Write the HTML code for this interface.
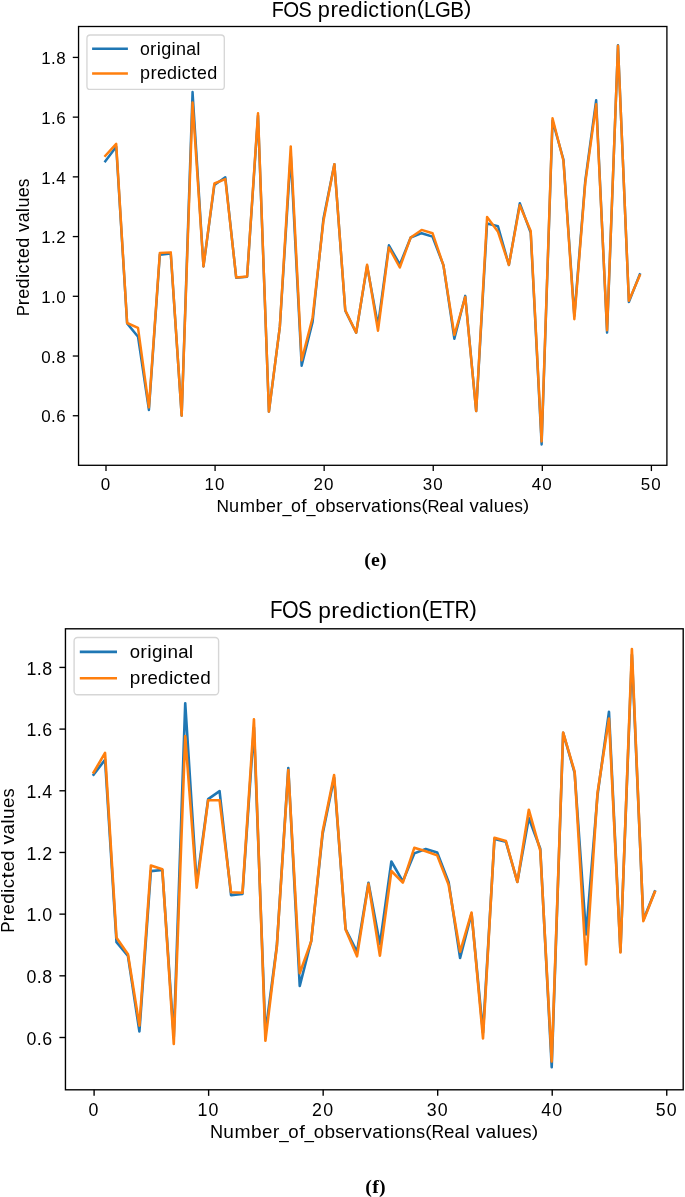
<!DOCTYPE html>
<html><head><meta charset="utf-8"><style>
html,body{margin:0;padding:0;background:#fff;}
body{width:685px;height:1197px;overflow:hidden;}
svg{display:block;}
#w{will-change:transform;width:685px;height:1197px;}
text{font-family:"Liberation Sans", sans-serif;fill:#000;}
.cap{font-family:"Liberation Serif",serif;font-weight:bold;}
</style></head><body>
<div id="w"><svg width="685" height="1197" viewBox="0 0 685 1197">
<rect width="685" height="1197" fill="#fff"/>
<clipPath id="c1"><rect x="78.55" y="26.5" width="588.35" height="438.80"/></clipPath>
<polyline clip-path="url(#c1)" points="105.30,161.23 116.21,146.79 127.12,323.35 138.02,336.77 148.93,409.96 159.84,254.66 170.75,253.63 181.66,415.70 192.56,92.06 203.47,266.40 214.38,184.89 225.29,177.18 236.20,277.87 247.10,276.75 258.01,115.65 268.92,411.60 279.83,326.90 290.74,154.90 301.64,365.74 312.55,322.32 323.46,218.45 334.37,164.20 345.28,310.69 356.18,332.78 367.09,265.89 378.00,325.40 388.91,245.31 399.82,264.48 410.72,237.49 421.63,233.20 432.54,236.69 443.45,265.29 454.36,338.78 465.26,295.86 476.17,411.10 487.08,223.55 497.99,226.27 508.90,265.04 519.80,203.28 530.71,232.94 541.62,444.40 552.53,120.72 563.44,159.54 574.34,316.01 585.25,180.91 596.16,100.29 607.07,332.60 617.98,45.18 628.88,301.92 639.79,274.43" fill="none" stroke="#1f77b4" stroke-width="2.47" stroke-linejoin="round" stroke-linecap="square" shape-rendering="geometricPrecision"/>
<polyline clip-path="url(#c1)" points="105.30,155.80 116.21,143.80 127.12,323.00 138.02,327.80 148.93,407.40 159.84,252.96 170.75,252.36 181.66,415.70 192.56,102.60 203.47,266.40 214.38,183.50 225.29,179.10 236.20,277.40 247.10,276.50 258.01,113.30 268.92,411.60 279.83,326.90 290.74,146.40 301.64,360.30 312.55,317.70 323.46,220.90 334.37,164.20 345.28,310.30 356.18,332.60 367.09,264.75 378.00,330.70 388.91,247.50 399.82,267.50 410.72,237.40 421.63,229.90 432.54,233.20 443.45,265.40 454.36,335.00 465.26,297.00 476.17,411.10 487.08,217.00 497.99,231.80 508.90,264.90 519.80,205.20 530.71,231.00 541.62,441.39 552.53,118.30 563.44,160.70 574.34,319.20 585.25,183.20 596.16,104.30 607.07,330.20 617.98,45.70 628.88,300.80 639.79,275.40" fill="none" stroke="#ff7f0e" stroke-width="2.47" stroke-linejoin="round" stroke-linecap="square" shape-rendering="geometricPrecision"/>
<line x1="106.00" y1="465.3" x2="106.00" y2="471.07" stroke="#000" stroke-width="1.32"/>
<line x1="215.08" y1="465.3" x2="215.08" y2="471.07" stroke="#000" stroke-width="1.32"/>
<line x1="324.16" y1="465.3" x2="324.16" y2="471.07" stroke="#000" stroke-width="1.32"/>
<line x1="433.24" y1="465.3" x2="433.24" y2="471.07" stroke="#000" stroke-width="1.32"/>
<line x1="542.32" y1="465.3" x2="542.32" y2="471.07" stroke="#000" stroke-width="1.32"/>
<line x1="651.40" y1="465.3" x2="651.40" y2="471.07" stroke="#000" stroke-width="1.32"/>
<line x1="72.78" y1="415.74" x2="78.55" y2="415.74" stroke="#000" stroke-width="1.32"/>
<line x1="72.78" y1="356.02" x2="78.55" y2="356.02" stroke="#000" stroke-width="1.32"/>
<line x1="72.78" y1="296.30" x2="78.55" y2="296.30" stroke="#000" stroke-width="1.32"/>
<line x1="72.78" y1="236.58" x2="78.55" y2="236.58" stroke="#000" stroke-width="1.32"/>
<line x1="72.78" y1="176.86" x2="78.55" y2="176.86" stroke="#000" stroke-width="1.32"/>
<line x1="72.78" y1="117.14" x2="78.55" y2="117.14" stroke="#000" stroke-width="1.32"/>
<line x1="72.78" y1="57.42" x2="78.55" y2="57.42" stroke="#000" stroke-width="1.32"/>
<rect x="78.55" y="26.5" width="588.35" height="438.80" fill="none" stroke="#000" stroke-width="1.32"/>
<g><text transform="translate(105.40,489.60) scale(0.970,0.987)" text-anchor="middle" font-size="17.48">0</text></g>
<g><text transform="translate(209.23,489.60) scale(0.970,0.987)" text-anchor="middle" font-size="17.48">1</text><text transform="translate(219.73,489.60) scale(0.970,0.987)" text-anchor="middle" font-size="17.48">0</text></g>
<g><text transform="translate(318.31,489.60) scale(0.970,0.987)" text-anchor="middle" font-size="17.48">2</text><text transform="translate(328.81,489.60) scale(0.970,0.987)" text-anchor="middle" font-size="17.48">0</text></g>
<g><text transform="translate(427.39,489.60) scale(0.970,0.987)" text-anchor="middle" font-size="17.48">3</text><text transform="translate(437.89,489.60) scale(0.970,0.987)" text-anchor="middle" font-size="17.48">0</text></g>
<g><text transform="translate(536.47,489.60) scale(0.970,0.987)" text-anchor="middle" font-size="17.48">4</text><text transform="translate(546.97,489.60) scale(0.970,0.987)" text-anchor="middle" font-size="17.48">0</text></g>
<g><text transform="translate(645.55,489.60) scale(0.970,0.987)" text-anchor="middle" font-size="17.48">5</text><text transform="translate(656.05,489.60) scale(0.970,0.987)" text-anchor="middle" font-size="17.48">0</text></g>
<g><text transform="translate(45.86,422.44) scale(0.970,0.987)" text-anchor="middle" font-size="17.48">0</text><text transform="translate(53.41,422.44) scale(0.970,1.000)" text-anchor="middle" font-size="17.48">.</text><text transform="translate(60.96,422.44) scale(0.970,0.987)" text-anchor="middle" font-size="17.48">6</text></g>
<g><text transform="translate(45.86,362.72) scale(0.970,0.987)" text-anchor="middle" font-size="17.48">0</text><text transform="translate(53.41,362.72) scale(0.970,1.000)" text-anchor="middle" font-size="17.48">.</text><text transform="translate(60.96,362.72) scale(0.970,0.987)" text-anchor="middle" font-size="17.48">8</text></g>
<g><text transform="translate(45.86,303.00) scale(0.970,0.987)" text-anchor="middle" font-size="17.48">1</text><text transform="translate(53.41,303.00) scale(0.970,1.000)" text-anchor="middle" font-size="17.48">.</text><text transform="translate(60.96,303.00) scale(0.970,0.987)" text-anchor="middle" font-size="17.48">0</text></g>
<g><text transform="translate(45.86,243.28) scale(0.970,0.987)" text-anchor="middle" font-size="17.48">1</text><text transform="translate(53.41,243.28) scale(0.970,1.000)" text-anchor="middle" font-size="17.48">.</text><text transform="translate(60.96,243.28) scale(0.970,0.987)" text-anchor="middle" font-size="17.48">2</text></g>
<g><text transform="translate(45.86,183.56) scale(0.970,0.987)" text-anchor="middle" font-size="17.48">1</text><text transform="translate(53.41,183.56) scale(0.970,1.000)" text-anchor="middle" font-size="17.48">.</text><text transform="translate(60.96,183.56) scale(0.970,0.987)" text-anchor="middle" font-size="17.48">4</text></g>
<g><text transform="translate(45.86,123.84) scale(0.970,0.987)" text-anchor="middle" font-size="17.48">1</text><text transform="translate(53.41,123.84) scale(0.970,1.000)" text-anchor="middle" font-size="17.48">.</text><text transform="translate(60.96,123.84) scale(0.970,0.987)" text-anchor="middle" font-size="17.48">6</text></g>
<g><text transform="translate(45.86,64.12) scale(0.970,0.987)" text-anchor="middle" font-size="17.48">1</text><text transform="translate(53.41,64.12) scale(0.970,1.000)" text-anchor="middle" font-size="17.48">.</text><text transform="translate(60.96,64.12) scale(0.970,0.987)" text-anchor="middle" font-size="17.48">8</text></g>
<rect x="86.95" y="35.0" width="137.35" height="54.45" rx="3.3" fill="#fff" fill-opacity="0.8" stroke="#d6d6d6" stroke-width="1.32"/>
<line x1="92.1" y1="48.75" x2="127.9" y2="48.75" stroke="#1f77b4" stroke-width="2.47"/>
<g><text transform="translate(144.87,54.55) scale(1.011,1.028)" text-anchor="middle" font-size="17.48">o</text><text transform="translate(153.18,54.55) scale(1.074,1.028)" text-anchor="middle" font-size="17.48">r</text><text transform="translate(158.77,54.55) scale(1.081,1.028)" text-anchor="middle" font-size="17.48">i</text><text transform="translate(166.18,54.55) scale(1.030,1.028)" text-anchor="middle" font-size="17.48">g</text><text transform="translate(173.59,54.55) scale(1.081,1.028)" text-anchor="middle" font-size="17.48">i</text><text transform="translate(181.00,54.55) scale(1.029,1.028)" text-anchor="middle" font-size="17.48">n</text><text transform="translate(191.12,54.55) scale(1.012,1.028)" text-anchor="middle" font-size="17.48">a</text><text transform="translate(198.36,54.55) scale(1.081,1.028)" text-anchor="middle" font-size="17.48">l</text></g>
<line x1="92.1" y1="73.53" x2="127.9" y2="73.53" stroke="#ff7f0e" stroke-width="2.47"/>
<g><text transform="translate(145.06,79.33) scale(1.030,1.028)" text-anchor="middle" font-size="17.48">p</text><text transform="translate(153.55,79.33) scale(1.074,1.028)" text-anchor="middle" font-size="17.48">r</text><text transform="translate(161.88,79.33) scale(1.014,1.028)" text-anchor="middle" font-size="17.48">e</text><text transform="translate(172.04,79.33) scale(1.030,1.028)" text-anchor="middle" font-size="17.48">d</text><text transform="translate(179.45,79.33) scale(1.081,1.028)" text-anchor="middle" font-size="17.48">i</text><text transform="translate(186.17,79.33) scale(1.011,1.028)" text-anchor="middle" font-size="17.48">c</text><text transform="translate(193.82,79.33) scale(1.156,1.028)" text-anchor="middle" font-size="17.48">t</text><text transform="translate(202.00,79.33) scale(1.014,1.028)" text-anchor="middle" font-size="17.48">e</text><text transform="translate(212.15,79.33) scale(1.030,1.028)" text-anchor="middle" font-size="17.48">d</text></g>
<g><text transform="translate(277.85,16.60) scale(0.941,1.070)" text-anchor="middle" font-size="20.97">F</text><text transform="translate(291.22,16.60) scale(0.974,1.070)" text-anchor="middle" font-size="20.97">O</text><text transform="translate(305.19,16.60) scale(0.946,1.070)" text-anchor="middle" font-size="20.97">S</text><text transform="translate(323.90,16.60) scale(1.035,1.028)" text-anchor="middle" font-size="20.97">p</text><text transform="translate(334.17,16.60) scale(1.078,1.028)" text-anchor="middle" font-size="20.97">r</text><text transform="translate(344.25,16.60) scale(1.018,1.028)" text-anchor="middle" font-size="20.97">e</text><text transform="translate(356.53,16.60) scale(1.035,1.028)" text-anchor="middle" font-size="20.97">d</text><text transform="translate(365.49,16.60) scale(1.086,1.028)" text-anchor="middle" font-size="20.97">i</text><text transform="translate(373.62,16.60) scale(1.015,1.028)" text-anchor="middle" font-size="20.97">c</text><text transform="translate(382.87,16.60) scale(1.160,1.028)" text-anchor="middle" font-size="20.97">t</text><text transform="translate(389.45,16.60) scale(1.086,1.028)" text-anchor="middle" font-size="20.97">i</text><text transform="translate(398.18,16.60) scale(1.015,1.028)" text-anchor="middle" font-size="20.97">o</text><text transform="translate(410.42,16.60) scale(1.034,1.028)" text-anchor="middle" font-size="20.97">n</text><text transform="translate(420.47,15.18) scale(1.049,0.979)" text-anchor="middle" font-size="20.97">(</text><text transform="translate(429.77,16.60) scale(0.969,1.070)" text-anchor="middle" font-size="20.97">L</text><text transform="translate(442.86,16.60) scale(0.967,1.070)" text-anchor="middle" font-size="20.97">G</text><text transform="translate(457.20,16.60) scale(0.982,1.070)" text-anchor="middle" font-size="20.97">B</text><text transform="translate(467.77,15.18) scale(1.049,0.979)" text-anchor="middle" font-size="20.97">)</text></g>
<g><text transform="translate(222.68,512.30) scale(0.989,0.987)" text-anchor="middle" font-size="17.48">N</text><text transform="translate(234.08,512.30) scale(1.038,1.028)" text-anchor="middle" font-size="17.48">u</text><text transform="translate(247.33,512.30) scale(1.052,1.028)" text-anchor="middle" font-size="17.48">m</text><text transform="translate(260.60,512.30) scale(1.038,1.028)" text-anchor="middle" font-size="17.48">b</text><text transform="translate(270.90,512.30) scale(1.022,1.028)" text-anchor="middle" font-size="17.48">e</text><text transform="translate(279.37,512.30) scale(1.082,1.028)" text-anchor="middle" font-size="17.48">r</text><text transform="translate(286.88,512.30) scale(0.924,1.000)" text-anchor="middle" font-size="17.48">_</text><text transform="translate(296.05,512.30) scale(1.019,1.028)" text-anchor="middle" font-size="17.48">o</text><text transform="translate(303.99,512.30) scale(1.098,1.028)" text-anchor="middle" font-size="17.48">f</text><text transform="translate(311.02,512.30) scale(0.924,1.000)" text-anchor="middle" font-size="17.48">_</text><text transform="translate(320.19,512.30) scale(1.019,1.028)" text-anchor="middle" font-size="17.48">o</text><text transform="translate(330.46,512.30) scale(1.038,1.028)" text-anchor="middle" font-size="17.48">b</text><text transform="translate(339.99,512.30) scale(0.992,1.028)" text-anchor="middle" font-size="17.48">s</text><text transform="translate(349.36,512.30) scale(1.022,1.028)" text-anchor="middle" font-size="17.48">e</text><text transform="translate(357.82,512.30) scale(1.082,1.028)" text-anchor="middle" font-size="17.48">r</text><text transform="translate(366.09,512.30) scale(1.058,1.028)" text-anchor="middle" font-size="17.48">v</text><text transform="translate(376.02,512.30) scale(1.020,1.028)" text-anchor="middle" font-size="17.48">a</text><text transform="translate(384.31,512.30) scale(1.160,1.028)" text-anchor="middle" font-size="17.48">t</text><text transform="translate(389.83,512.30) scale(1.090,1.028)" text-anchor="middle" font-size="17.48">i</text><text transform="translate(397.17,512.30) scale(1.019,1.028)" text-anchor="middle" font-size="17.48">o</text><text transform="translate(407.44,512.30) scale(1.038,1.028)" text-anchor="middle" font-size="17.48">n</text><text transform="translate(416.96,512.30) scale(0.992,1.028)" text-anchor="middle" font-size="17.48">s</text><text transform="translate(424.47,511.21) scale(1.053,0.903)" text-anchor="middle" font-size="17.48">(</text><text transform="translate(433.42,512.30) scale(0.954,0.987)" text-anchor="middle" font-size="17.48">R</text><text transform="translate(444.22,512.30) scale(1.022,1.028)" text-anchor="middle" font-size="17.48">e</text><text transform="translate(454.34,512.30) scale(1.020,1.028)" text-anchor="middle" font-size="17.48">a</text><text transform="translate(461.69,512.30) scale(1.090,1.028)" text-anchor="middle" font-size="17.48">l</text><text transform="translate(474.10,512.30) scale(1.058,1.028)" text-anchor="middle" font-size="17.48">v</text><text transform="translate(484.03,512.30) scale(1.020,1.028)" text-anchor="middle" font-size="17.48">a</text><text transform="translate(491.37,512.30) scale(1.090,1.028)" text-anchor="middle" font-size="17.48">l</text><text transform="translate(498.89,512.30) scale(1.038,1.028)" text-anchor="middle" font-size="17.48">u</text><text transform="translate(509.19,512.30) scale(1.022,1.028)" text-anchor="middle" font-size="17.48">e</text><text transform="translate(518.56,512.30) scale(0.992,1.028)" text-anchor="middle" font-size="17.48">s</text><text transform="translate(526.07,511.21) scale(1.053,0.903)" text-anchor="middle" font-size="17.48">)</text></g>
<g transform="translate(29.4,247.0) rotate(-90)"><g><text transform="translate(-63.50,0.00) scale(0.926,0.987)" text-anchor="middle" font-size="17.48">P</text><text transform="translate(-55.13,0.00) scale(1.082,1.028)" text-anchor="middle" font-size="17.48">r</text><text transform="translate(-46.67,0.00) scale(1.022,1.028)" text-anchor="middle" font-size="17.48">e</text><text transform="translate(-36.37,0.00) scale(1.038,1.028)" text-anchor="middle" font-size="17.48">d</text><text transform="translate(-28.84,0.00) scale(1.090,1.028)" text-anchor="middle" font-size="17.48">i</text><text transform="translate(-22.02,0.00) scale(1.019,1.028)" text-anchor="middle" font-size="17.48">c</text><text transform="translate(-14.25,0.00) scale(1.160,1.028)" text-anchor="middle" font-size="17.48">t</text><text transform="translate(-5.95,0.00) scale(1.022,1.028)" text-anchor="middle" font-size="17.48">e</text><text transform="translate(4.36,0.00) scale(1.038,1.028)" text-anchor="middle" font-size="17.48">d</text><text transform="translate(19.71,0.00) scale(1.058,1.028)" text-anchor="middle" font-size="17.48">v</text><text transform="translate(29.65,0.00) scale(1.020,1.028)" text-anchor="middle" font-size="17.48">a</text><text transform="translate(36.99,0.00) scale(1.090,1.028)" text-anchor="middle" font-size="17.48">l</text><text transform="translate(44.51,0.00) scale(1.038,1.028)" text-anchor="middle" font-size="17.48">u</text><text transform="translate(54.80,0.00) scale(1.022,1.028)" text-anchor="middle" font-size="17.48">e</text><text transform="translate(64.17,0.00) scale(0.992,1.028)" text-anchor="middle" font-size="17.48">s</text></g></g>
<clipPath id="c2"><rect x="65.45" y="628.8" width="617.75" height="461.00"/></clipPath>
<polyline clip-path="url(#c2)" points="93.60,774.64 105.05,759.72 116.51,942.07 127.96,955.94 139.41,1031.53 150.87,871.13 162.32,870.07 173.77,1037.46 185.22,703.20 196.68,883.26 208.13,799.08 219.58,791.11 231.04,895.11 242.49,893.95 253.94,727.56 265.39,1033.22 276.85,945.74 288.30,768.10 299.75,985.86 311.21,941.02 322.66,833.73 334.11,777.70 345.57,929.00 357.02,951.82 368.47,882.73 379.92,944.20 391.38,861.48 402.83,881.28 414.28,853.40 425.74,848.97 437.19,852.57 448.64,882.11 460.10,958.01 471.55,913.68 483.00,1032.71 494.45,839.01 505.91,841.81 517.36,881.85 528.81,818.07 540.27,848.70 551.72,1067.10 563.17,732.80 574.63,772.89 586.08,934.50 597.53,794.96 608.99,711.70 620.44,951.63 631.89,654.78 643.34,919.94 654.80,891.55" fill="none" stroke="#1f77b4" stroke-width="2.60" stroke-linejoin="round" stroke-linecap="square" shape-rendering="geometricPrecision"/>
<polyline clip-path="url(#c2)" points="93.60,772.40 105.05,752.90 116.51,937.70 127.96,954.30 139.41,1025.60 150.87,865.50 162.32,869.20 173.77,1044.00 185.22,736.00 196.68,887.70 208.13,800.30 219.58,800.30 231.04,892.30 242.49,892.70 253.94,719.40 265.39,1040.80 276.85,946.52 288.30,770.00 299.75,973.20 311.21,941.40 322.66,831.20 334.11,775.10 345.57,929.40 357.02,956.30 368.47,883.90 379.92,955.70 391.38,871.00 402.83,882.60 414.28,847.80 425.74,851.30 437.19,855.40 448.64,884.80 460.10,951.80 471.55,912.50 483.00,1038.50 494.45,837.70 505.91,841.00 517.36,882.00 528.81,809.70 540.27,850.70 551.72,1061.40 563.17,732.50 574.63,771.70 586.08,964.50 597.53,792.60 608.99,718.50 620.44,952.50 631.89,649.00 643.34,921.10 654.80,892.00" fill="none" stroke="#ff7f0e" stroke-width="2.60" stroke-linejoin="round" stroke-linecap="square" shape-rendering="geometricPrecision"/>
<line x1="94.10" y1="1089.8" x2="94.10" y2="1095.86" stroke="#000" stroke-width="1.38"/>
<line x1="208.63" y1="1089.8" x2="208.63" y2="1095.86" stroke="#000" stroke-width="1.38"/>
<line x1="323.16" y1="1089.8" x2="323.16" y2="1095.86" stroke="#000" stroke-width="1.38"/>
<line x1="437.69" y1="1089.8" x2="437.69" y2="1095.86" stroke="#000" stroke-width="1.38"/>
<line x1="552.22" y1="1089.8" x2="552.22" y2="1095.86" stroke="#000" stroke-width="1.38"/>
<line x1="666.75" y1="1089.8" x2="666.75" y2="1095.86" stroke="#000" stroke-width="1.38"/>
<line x1="59.39" y1="1037.50" x2="65.45" y2="1037.50" stroke="#000" stroke-width="1.38"/>
<line x1="59.39" y1="975.82" x2="65.45" y2="975.82" stroke="#000" stroke-width="1.38"/>
<line x1="59.39" y1="914.14" x2="65.45" y2="914.14" stroke="#000" stroke-width="1.38"/>
<line x1="59.39" y1="852.46" x2="65.45" y2="852.46" stroke="#000" stroke-width="1.38"/>
<line x1="59.39" y1="790.78" x2="65.45" y2="790.78" stroke="#000" stroke-width="1.38"/>
<line x1="59.39" y1="729.10" x2="65.45" y2="729.10" stroke="#000" stroke-width="1.38"/>
<line x1="59.39" y1="667.42" x2="65.45" y2="667.42" stroke="#000" stroke-width="1.38"/>
<rect x="65.45" y="628.8" width="617.75" height="461.00" fill="none" stroke="#000" stroke-width="1.38"/>
<g><text transform="translate(93.50,1115.60) scale(0.970,0.987)" text-anchor="middle" font-size="18.35">0</text></g>
<g><text transform="translate(202.52,1115.60) scale(0.970,0.987)" text-anchor="middle" font-size="18.35">1</text><text transform="translate(213.54,1115.60) scale(0.970,0.987)" text-anchor="middle" font-size="18.35">0</text></g>
<g><text transform="translate(317.05,1115.60) scale(0.970,0.987)" text-anchor="middle" font-size="18.35">2</text><text transform="translate(328.07,1115.60) scale(0.970,0.987)" text-anchor="middle" font-size="18.35">0</text></g>
<g><text transform="translate(431.58,1115.60) scale(0.970,0.987)" text-anchor="middle" font-size="18.35">3</text><text transform="translate(442.60,1115.60) scale(0.970,0.987)" text-anchor="middle" font-size="18.35">0</text></g>
<g><text transform="translate(546.11,1115.60) scale(0.970,0.987)" text-anchor="middle" font-size="18.35">4</text><text transform="translate(557.13,1115.60) scale(0.970,0.987)" text-anchor="middle" font-size="18.35">0</text></g>
<g><text transform="translate(660.64,1115.60) scale(0.970,0.987)" text-anchor="middle" font-size="18.35">5</text><text transform="translate(671.66,1115.60) scale(0.970,0.987)" text-anchor="middle" font-size="18.35">0</text></g>
<g><text transform="translate(31.36,1044.60) scale(0.970,0.987)" text-anchor="middle" font-size="18.35">0</text><text transform="translate(39.29,1044.60) scale(0.970,1.000)" text-anchor="middle" font-size="18.35">.</text><text transform="translate(47.21,1044.60) scale(0.970,0.987)" text-anchor="middle" font-size="18.35">6</text></g>
<g><text transform="translate(31.36,982.92) scale(0.970,0.987)" text-anchor="middle" font-size="18.35">0</text><text transform="translate(39.29,982.92) scale(0.970,1.000)" text-anchor="middle" font-size="18.35">.</text><text transform="translate(47.21,982.92) scale(0.970,0.987)" text-anchor="middle" font-size="18.35">8</text></g>
<g><text transform="translate(31.36,921.24) scale(0.970,0.987)" text-anchor="middle" font-size="18.35">1</text><text transform="translate(39.29,921.24) scale(0.970,1.000)" text-anchor="middle" font-size="18.35">.</text><text transform="translate(47.21,921.24) scale(0.970,0.987)" text-anchor="middle" font-size="18.35">0</text></g>
<g><text transform="translate(31.36,859.56) scale(0.970,0.987)" text-anchor="middle" font-size="18.35">1</text><text transform="translate(39.29,859.56) scale(0.970,1.000)" text-anchor="middle" font-size="18.35">.</text><text transform="translate(47.21,859.56) scale(0.970,0.987)" text-anchor="middle" font-size="18.35">2</text></g>
<g><text transform="translate(31.36,797.88) scale(0.970,0.987)" text-anchor="middle" font-size="18.35">1</text><text transform="translate(39.29,797.88) scale(0.970,1.000)" text-anchor="middle" font-size="18.35">.</text><text transform="translate(47.21,797.88) scale(0.970,0.987)" text-anchor="middle" font-size="18.35">4</text></g>
<g><text transform="translate(31.36,736.20) scale(0.970,0.987)" text-anchor="middle" font-size="18.35">1</text><text transform="translate(39.29,736.20) scale(0.970,1.000)" text-anchor="middle" font-size="18.35">.</text><text transform="translate(47.21,736.20) scale(0.970,0.987)" text-anchor="middle" font-size="18.35">6</text></g>
<g><text transform="translate(31.36,674.52) scale(0.970,0.987)" text-anchor="middle" font-size="18.35">1</text><text transform="translate(39.29,674.52) scale(0.970,1.000)" text-anchor="middle" font-size="18.35">.</text><text transform="translate(47.21,674.52) scale(0.970,0.987)" text-anchor="middle" font-size="18.35">8</text></g>
<rect x="74.1" y="637.5" width="144.5" height="57.3" rx="3.5" fill="#fff" fill-opacity="0.8" stroke="#d6d6d6" stroke-width="1.38"/>
<line x1="79.8" y1="651.9" x2="117.0" y2="651.9" stroke="#1f77b4" stroke-width="2.60"/>
<g><text transform="translate(134.82,657.90) scale(1.011,1.028)" text-anchor="middle" font-size="18.35">o</text><text transform="translate(143.54,657.90) scale(1.074,1.028)" text-anchor="middle" font-size="18.35">r</text><text transform="translate(149.41,657.90) scale(1.081,1.028)" text-anchor="middle" font-size="18.35">i</text><text transform="translate(157.19,657.90) scale(1.030,1.028)" text-anchor="middle" font-size="18.35">g</text><text transform="translate(164.97,657.90) scale(1.081,1.028)" text-anchor="middle" font-size="18.35">i</text><text transform="translate(172.74,657.90) scale(1.029,1.028)" text-anchor="middle" font-size="18.35">n</text><text transform="translate(183.37,657.90) scale(1.012,1.028)" text-anchor="middle" font-size="18.35">a</text><text transform="translate(190.96,657.90) scale(1.081,1.028)" text-anchor="middle" font-size="18.35">l</text></g>
<line x1="79.8" y1="678.2" x2="117.0" y2="678.2" stroke="#ff7f0e" stroke-width="2.60"/>
<g><text transform="translate(135.01,684.20) scale(1.030,1.028)" text-anchor="middle" font-size="18.35">p</text><text transform="translate(143.93,684.20) scale(1.074,1.028)" text-anchor="middle" font-size="18.35">r</text><text transform="translate(152.68,684.20) scale(1.014,1.028)" text-anchor="middle" font-size="18.35">e</text><text transform="translate(163.33,684.20) scale(1.030,1.028)" text-anchor="middle" font-size="18.35">d</text><text transform="translate(171.11,684.20) scale(1.081,1.028)" text-anchor="middle" font-size="18.35">i</text><text transform="translate(178.17,684.20) scale(1.011,1.028)" text-anchor="middle" font-size="18.35">c</text><text transform="translate(186.20,684.20) scale(1.156,1.028)" text-anchor="middle" font-size="18.35">t</text><text transform="translate(194.79,684.20) scale(1.014,1.028)" text-anchor="middle" font-size="18.35">e</text><text transform="translate(205.44,684.20) scale(1.030,1.028)" text-anchor="middle" font-size="18.35">d</text></g>
<g><text transform="translate(276.36,617.90) scale(0.939,1.070)" text-anchor="middle" font-size="22.02">F</text><text transform="translate(290.34,617.90) scale(0.972,1.070)" text-anchor="middle" font-size="22.02">O</text><text transform="translate(304.93,617.90) scale(0.944,1.070)" text-anchor="middle" font-size="22.02">S</text><text transform="translate(324.48,617.90) scale(1.032,1.028)" text-anchor="middle" font-size="22.02">p</text><text transform="translate(335.21,617.90) scale(1.075,1.028)" text-anchor="middle" font-size="22.02">r</text><text transform="translate(345.74,617.90) scale(1.016,1.028)" text-anchor="middle" font-size="22.02">e</text><text transform="translate(358.56,617.90) scale(1.032,1.028)" text-anchor="middle" font-size="22.02">d</text><text transform="translate(367.93,617.90) scale(1.083,1.028)" text-anchor="middle" font-size="22.02">i</text><text transform="translate(376.42,617.90) scale(1.012,1.028)" text-anchor="middle" font-size="22.02">c</text><text transform="translate(386.08,617.90) scale(1.158,1.028)" text-anchor="middle" font-size="22.02">t</text><text transform="translate(392.96,617.90) scale(1.083,1.028)" text-anchor="middle" font-size="22.02">i</text><text transform="translate(402.09,617.90) scale(1.013,1.028)" text-anchor="middle" font-size="22.02">o</text><text transform="translate(414.87,617.90) scale(1.031,1.028)" text-anchor="middle" font-size="22.02">n</text><text transform="translate(425.37,616.41) scale(1.046,0.979)" text-anchor="middle" font-size="22.02">(</text><text transform="translate(435.86,617.90) scale(0.941,1.070)" text-anchor="middle" font-size="22.02">E</text><text transform="translate(448.61,617.90) scale(0.966,1.070)" text-anchor="middle" font-size="22.02">T</text><text transform="translate(462.01,617.90) scale(0.948,1.070)" text-anchor="middle" font-size="22.02">R</text><text transform="translate(473.14,616.41) scale(1.046,0.979)" text-anchor="middle" font-size="22.02">)</text></g>
<g><text transform="translate(216.56,1138.30) scale(0.989,0.987)" text-anchor="middle" font-size="18.35">N</text><text transform="translate(228.52,1138.30) scale(1.038,1.028)" text-anchor="middle" font-size="18.35">u</text><text transform="translate(242.44,1138.30) scale(1.052,1.028)" text-anchor="middle" font-size="18.35">m</text><text transform="translate(256.36,1138.30) scale(1.038,1.028)" text-anchor="middle" font-size="18.35">b</text><text transform="translate(267.18,1138.30) scale(1.022,1.028)" text-anchor="middle" font-size="18.35">e</text><text transform="translate(276.07,1138.30) scale(1.082,1.028)" text-anchor="middle" font-size="18.35">r</text><text transform="translate(283.95,1138.30) scale(0.924,1.000)" text-anchor="middle" font-size="18.35">_</text><text transform="translate(293.57,1138.30) scale(1.019,1.028)" text-anchor="middle" font-size="18.35">o</text><text transform="translate(301.92,1138.30) scale(1.098,1.028)" text-anchor="middle" font-size="18.35">f</text><text transform="translate(309.29,1138.30) scale(0.924,1.000)" text-anchor="middle" font-size="18.35">_</text><text transform="translate(318.91,1138.30) scale(1.019,1.028)" text-anchor="middle" font-size="18.35">o</text><text transform="translate(329.70,1138.30) scale(1.038,1.028)" text-anchor="middle" font-size="18.35">b</text><text transform="translate(339.71,1138.30) scale(0.992,1.028)" text-anchor="middle" font-size="18.35">s</text><text transform="translate(349.54,1138.30) scale(1.022,1.028)" text-anchor="middle" font-size="18.35">e</text><text transform="translate(358.42,1138.30) scale(1.082,1.028)" text-anchor="middle" font-size="18.35">r</text><text transform="translate(367.10,1138.30) scale(1.058,1.028)" text-anchor="middle" font-size="18.35">v</text><text transform="translate(377.53,1138.30) scale(1.020,1.028)" text-anchor="middle" font-size="18.35">a</text><text transform="translate(386.23,1138.30) scale(1.160,1.028)" text-anchor="middle" font-size="18.35">t</text><text transform="translate(392.02,1138.30) scale(1.090,1.028)" text-anchor="middle" font-size="18.35">i</text><text transform="translate(399.72,1138.30) scale(1.019,1.028)" text-anchor="middle" font-size="18.35">o</text><text transform="translate(410.51,1138.30) scale(1.038,1.028)" text-anchor="middle" font-size="18.35">n</text><text transform="translate(420.50,1138.30) scale(0.992,1.028)" text-anchor="middle" font-size="18.35">s</text><text transform="translate(428.39,1137.16) scale(1.053,0.903)" text-anchor="middle" font-size="18.35">(</text><text transform="translate(437.78,1138.30) scale(0.954,0.987)" text-anchor="middle" font-size="18.35">R</text><text transform="translate(449.11,1138.30) scale(1.022,1.028)" text-anchor="middle" font-size="18.35">e</text><text transform="translate(459.74,1138.30) scale(1.020,1.028)" text-anchor="middle" font-size="18.35">a</text><text transform="translate(467.45,1138.30) scale(1.090,1.028)" text-anchor="middle" font-size="18.35">l</text><text transform="translate(480.48,1138.30) scale(1.058,1.028)" text-anchor="middle" font-size="18.35">v</text><text transform="translate(490.91,1138.30) scale(1.020,1.028)" text-anchor="middle" font-size="18.35">a</text><text transform="translate(498.61,1138.30) scale(1.090,1.028)" text-anchor="middle" font-size="18.35">l</text><text transform="translate(506.50,1138.30) scale(1.038,1.028)" text-anchor="middle" font-size="18.35">u</text><text transform="translate(517.32,1138.30) scale(1.022,1.028)" text-anchor="middle" font-size="18.35">e</text><text transform="translate(527.15,1138.30) scale(0.992,1.028)" text-anchor="middle" font-size="18.35">s</text><text transform="translate(535.04,1137.16) scale(1.053,0.903)" text-anchor="middle" font-size="18.35">)</text></g>
<g transform="translate(13.9,860.4) rotate(-90)"><g><text transform="translate(-66.65,0.00) scale(0.926,0.987)" text-anchor="middle" font-size="18.35">P</text><text transform="translate(-57.88,0.00) scale(1.082,1.028)" text-anchor="middle" font-size="18.35">r</text><text transform="translate(-48.99,0.00) scale(1.022,1.028)" text-anchor="middle" font-size="18.35">e</text><text transform="translate(-38.17,0.00) scale(1.038,1.028)" text-anchor="middle" font-size="18.35">d</text><text transform="translate(-30.28,0.00) scale(1.090,1.028)" text-anchor="middle" font-size="18.35">i</text><text transform="translate(-23.11,0.00) scale(1.019,1.028)" text-anchor="middle" font-size="18.35">c</text><text transform="translate(-14.96,0.00) scale(1.160,1.028)" text-anchor="middle" font-size="18.35">t</text><text transform="translate(-6.24,0.00) scale(1.022,1.028)" text-anchor="middle" font-size="18.35">e</text><text transform="translate(4.58,0.00) scale(1.038,1.028)" text-anchor="middle" font-size="18.35">d</text><text transform="translate(20.70,0.00) scale(1.058,1.028)" text-anchor="middle" font-size="18.35">v</text><text transform="translate(31.12,0.00) scale(1.020,1.028)" text-anchor="middle" font-size="18.35">a</text><text transform="translate(38.83,0.00) scale(1.090,1.028)" text-anchor="middle" font-size="18.35">l</text><text transform="translate(46.72,0.00) scale(1.038,1.028)" text-anchor="middle" font-size="18.35">u</text><text transform="translate(57.53,0.00) scale(1.022,1.028)" text-anchor="middle" font-size="18.35">e</text><text transform="translate(67.36,0.00) scale(0.992,1.028)" text-anchor="middle" font-size="18.35">s</text></g></g>
<text class="cap" x="375.6" y="565.6" text-anchor="middle" font-size="19.8" letter-spacing="0.3">(e)</text>
<text class="cap" x="375.6" y="1192.6" text-anchor="middle" font-size="19.8" letter-spacing="0.3">(f)</text>
</svg></div>
</body></html>
